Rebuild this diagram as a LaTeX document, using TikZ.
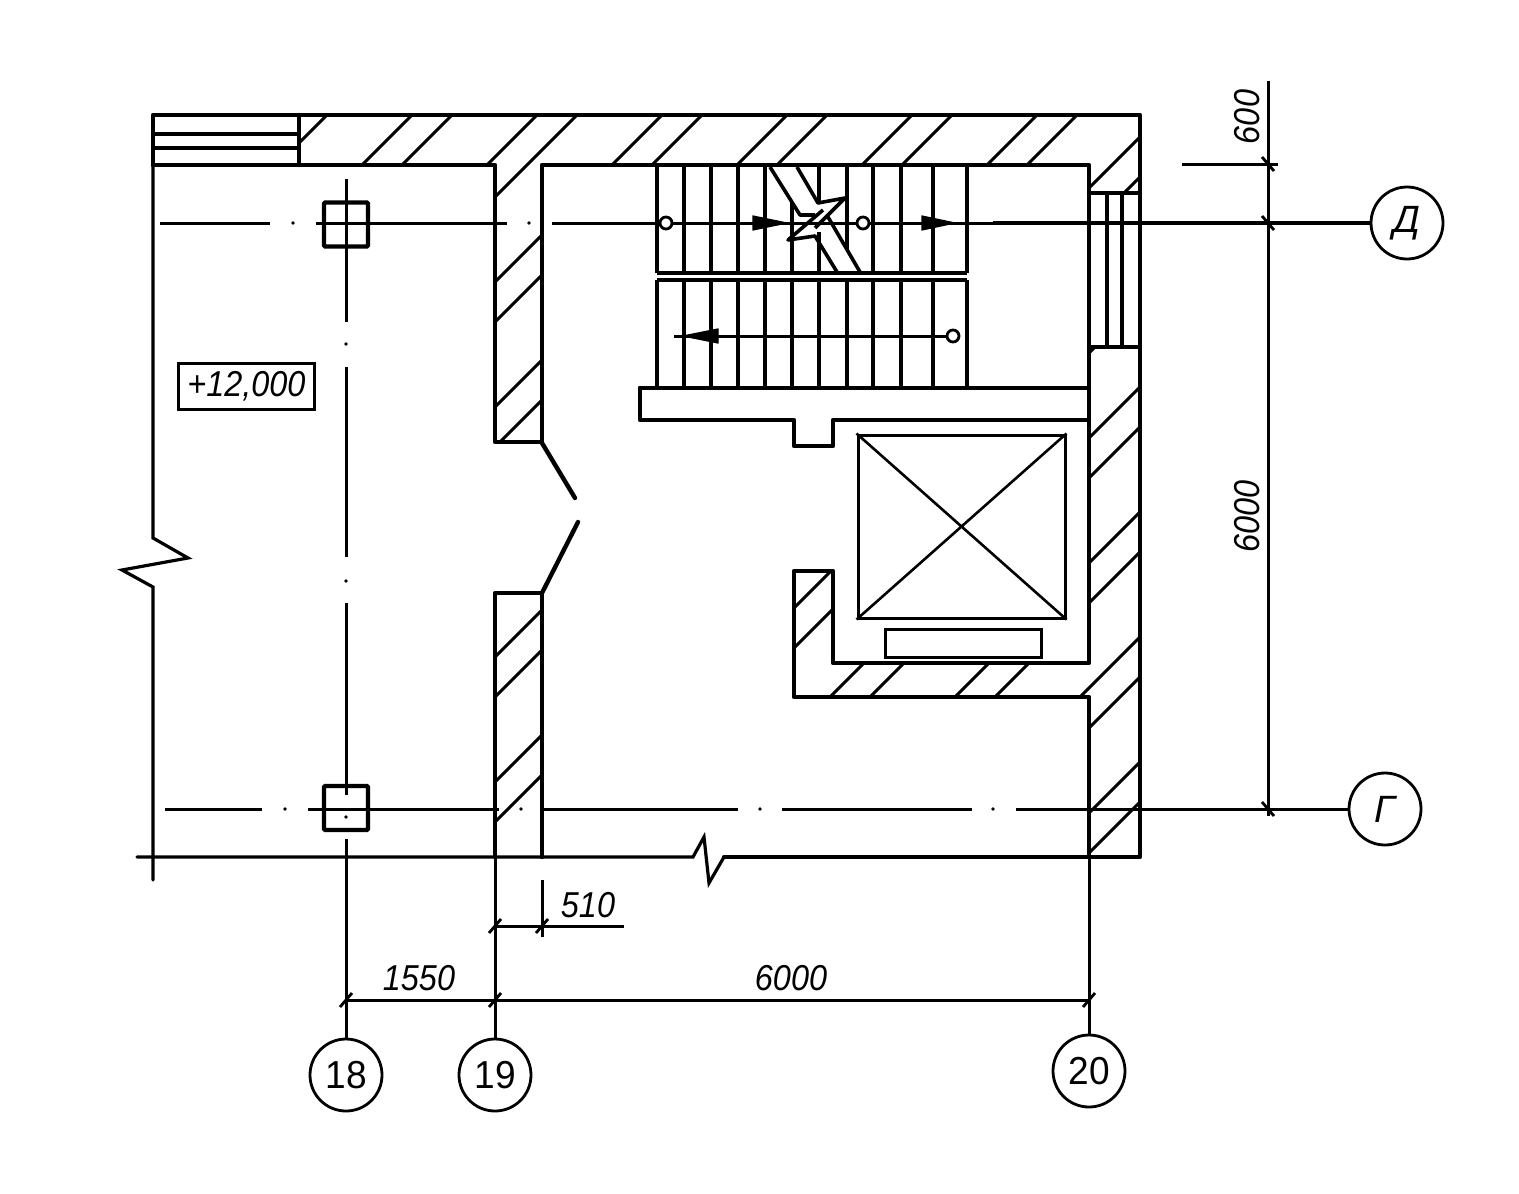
\documentclass[tikz,border=0pt]{standalone}
\usepackage{fontspec}
\setmainfont{Liberation Sans}
\newcommand{\dimlbl}[1]{\scalebox{.9}[1]{\fontsize{18}{20}\selectfont\itshape #1}}
\newcommand{\axlbl}[1]{\scalebox{.95}[1]{\fontsize{19.5}{21}\selectfont #1}}
\newcommand{\axital}[1]{\scalebox{1}[1]{\fontsize{19}{21}\selectfont\itshape #1}}
\tikzset{
  wall/.style={line width=2.2pt,line join=round,line cap=round},
  fine/.style={line width=1.6pt,line cap=round},
  hatch/.style={line width=1.5pt},
  stairline/.style={line width=1.8pt},
  axisline/.style={line width=1.5pt},
  axisbub/.style={circle,draw,line width=1.4pt,minimum size=36pt,inner sep=0pt,fill=white},
  column/.style={rectangle,draw,line width=2.1pt,rounded corners=.5pt,minimum size=22pt,inner sep=0pt},
  ring/.style={circle,draw,line width=1.4pt,minimum size=6pt,inner sep=0pt,fill=white},
  lbl/.style={inner sep=0pt},
  marker/.style={fill=black,draw=black,line width=.6pt,line join=miter},
}
\newcommand{\thor}[2]{\draw[line width=1.4pt] (#1-6,#2+7) -- (#1+6,#2-7);}
\newcommand{\tver}[2]{\draw[line width=1.4pt] (#1-6,#2-7) -- (#1+6,#2+7);}
\newcommand{\adot}[2]{\fill (#1,#2) circle (1.8);}
\begin{document}
\begin{tikzpicture}[x=0.5pt,y=-0.5pt]
\useasboundingbox (0,0) rectangle (1519,1193);
\fill[white] (0,0) rectangle (1519,1193);
% hatching
\begin{scope}
\clip (299,115) -- (1140,115) -- (1140,193) -- (1089,193) -- (1089,165) -- (542,165) -- (542,442) -- (495,442) -- (495,165) -- (299,165) -- cycle
      (495,593) -- (542,593) -- (542,857) -- (495,857) -- cycle
      (1089,347) -- (1140,347) -- (1140,857) -- (1089,857) -- (1089,697) -- (794,697) -- (794,571) -- (833,571) -- (833,663) -- (1089,663) -- cycle;
\foreach \k in {3,...,16}{
  \foreach \o in {27,67}{
    \pgfmathsetmacro{\cc}{\o+125*\k}
    \draw[hatch] (100,\cc-100) -- (1300,\cc-1300);
  }
}
\end{scope}
% named nodes
\node[axisbub] (a18) at (346,1075) {\axlbl{18}};
\node[axisbub] (a19) at (495,1075) {\axlbl{19}};
\node[axisbub] (a20) at (1089,1071) {\axlbl{20}};
\node[axisbub] (aD) at (1407,223) {\axital{Д}};
\node[axisbub] (aG) at (1385,809) {\axital{Г}};
\node[column] (c1) at (346,224.5) {};
\node[column] (c2) at (346,808) {};
\node[draw,line width=1.6pt,minimum width=68pt,minimum height=23pt,inner sep=0pt] (lev) at (246.5,386.5) {\dimlbl{+12,000}};
\coordinate (e19) at (495,857);
\coordinate (e20) at (1089,857);
% walls
\draw[wall] (153,165) -- (153,115) -- (1140,115) -- (1140,857) -- (724,857);
\draw[wall] (153,165) -- (495,165) -- (495,442) -- (542,442) -- (542,165) -- (1089,165) -- (1089,663) -- (833,663) -- (833,571) -- (794,571) -- (794,697) -- (1089,697) -- (1089,857);
\draw[wall] (299,115) -- (299,165);
\draw[wall] (495,857) -- (495,593) -- (542,593) -- (542,857);
\draw[wall] (1089,193) -- (1140,193);
\draw[wall] (1089,347) -- (1140,347);
\draw[fine] (1107,193) -- (1107,347) (1122,193) -- (1122,347);
\draw[fine] (153,134) -- (299,134) (153,148) -- (299,148);
% left edge and break lines
\draw[fine] (153,165) -- (153,538) -- (188,558) -- (122,570) -- (153,587) -- (153,880);
\draw[fine] (137,857) -- (693,857) -- (704,837) -- (709,883) -- (724,857);
% door
\draw[wall] (542,443) -- (575,498);
\draw[wall] (542,593) -- (578,522);
% landing
\draw[wall] (640,388) -- (1089,388);
\draw[wall] (640,388) -- (640,420) -- (794,420) -- (794,446) -- (833,446) -- (833,420) -- (1089,420);
% stairs
\foreach \x in {657,684,711,738,765,873,901,933,967}{\draw[stairline] (\x,165) -- (\x,273);}
\draw[stairline] (792,203) -- (792,273);
\draw[stairline] (819,165) -- (819,204) (819,232) -- (819,273);
\draw[stairline] (847,165) -- (847,250);
\foreach \x in {657,684,711,738,765,792,819,847,873,901,933,967}{\draw[stairline] (\x,280) -- (\x,388);}
\draw[stairline] (657,273) -- (967,273) (657,280) -- (967,280);
% stair break
\draw[stairline,line join=round] (770,167) -- (800,215) -- (815,215);
\draw[stairline,line join=round] (823,210) -- (788,240) -- (815,236) -- (837,272);
\draw[stairline,line join=round] (797,167) -- (818,203) -- (845,198) -- (815,228);
\draw[stairline] (828,217) -- (860,272);
% elevator
\node[draw,line width=1.5pt,minimum width=103.5pt,minimum height=91.5pt,inner sep=0pt] (cab) at (961.5,526.5) {};
\draw[line width=1.3pt] (cab.north west) -- (cab.south east) (cab.north east) -- (cab.south west);
\node[draw,line width=1.5pt,minimum width=78pt,minimum height=14pt,inner sep=0pt] (wgt) at (963,643) {};
% axis lines
\draw[axisline] (160,223) -- (270,223);
\adot{293}{223}
\draw[axisline] (316,223) -- (507,223);
\adot{529}{223}
\draw[axisline] (552,223) -- (993,223);
\draw[line width=1.9pt] (993,223) -- (aD);
\draw[axisline] (165,809) -- (262,809);
\adot{285}{809}
\draw[axisline] (308,809) -- (499,809);
\adot{521}{809}
\draw[axisline] (543,809) -- (738,809);
\adot{760}{809}
\draw[axisline] (782,809) -- (972,809);
\adot{993}{809}
\draw[axisline] (1016,809) -- (aG);
\draw[axisline] (346,179) -- (346,322);
\adot{346}{344}
\draw[axisline] (346,367) -- (346,557);
\adot{346}{581}
\draw[axisline] (346,603) -- (346,795);
\adot{346}{817}
\draw[axisline] (346,839) -- (a18);
\draw[axisline] (e19) -- (a19);
\draw[axisline] (e20) -- (a20);
% stair arrows
\node[ring] (r1) at (666,223) {};
\node[ring] (r2) at (863,223) {};
\node[ring] (r3) at (953,336) {};
\draw[axisline] (r3) -- (674,336);
\fill[marker] (753,216) -- (787,223) -- (753,230) -- cycle;
\fill[marker] (922,216) -- (955,223) -- (922,230) -- cycle;
\fill[marker] (718,329) -- (683,336) -- (718,343) -- cycle;
% dimensions
\draw[axisline] (1268,81) -- (1268,816);
\draw[axisline] (1182,164) -- (1278,164);
\tver{1268}{164}\tver{1268}{223}\tver{1268}{809}
\draw[axisline] (495,926) -- (624,926);
\draw[axisline] (542,880) -- (542,937);
\thor{495}{926}\thor{542}{926}
\draw[axisline] (346,1000) -- (1089,1000);
\thor{346}{1000}\thor{495}{1000}\thor{1089}{1000}
\node[lbl] (t510) at (588,905) {\dimlbl{510}};
\node[lbl] (t1550) at (419,978) {\dimlbl{1550}};
\node[lbl] (t6000a) at (791,978) {\dimlbl{6000}};
\node[lbl,rotate=90] (t600) at (1247,117) {\dimlbl{600}};
\node[lbl,rotate=90] (t6000b) at (1247,516) {\dimlbl{6000}};
\end{tikzpicture}
\end{document}
